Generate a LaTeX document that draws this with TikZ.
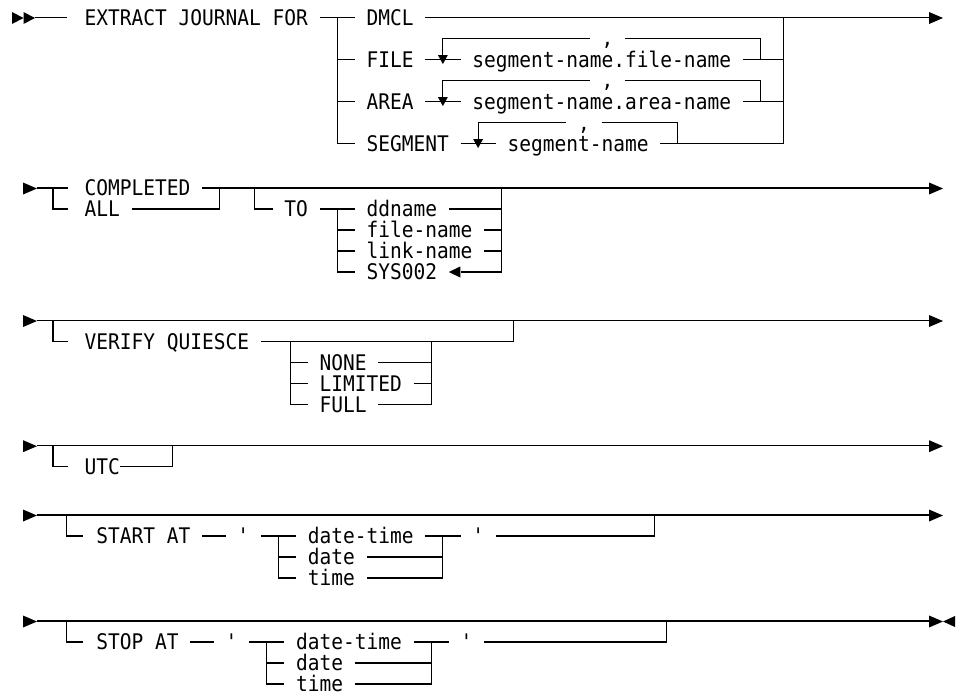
\documentclass[tikz,border=0pt]{standalone}
\usepackage{fontspec}
\setmonofont[FakeStretch=0.908]{DejaVu Sans Mono}
\pgfmathdeclarefunction{cs}{1}{\pgfmathparse{14+11.75*#1}}
\pgfmathdeclarefunction{cm}{1}{\pgfmathparse{14+11.75*(#1+0.5)}}
% right-pointing triangle: left x, y, width
\newcommand\rrRight[3]{\fill ({#1},{#2-6}) -- ({#1+#3},{#2}) -- ({#1},{#2+6}) -- cycle;}
% left-pointing triangle: tip x, y, width
\newcommand\rrLeft[3]{\fill ({#1+#3},{#2-5.5}) -- ({#1},{#2}) -- ({#1+#3},{#2+5.5}) -- cycle;}
% down-pointing triangle: centre x, y
\newcommand\rrDown[2]{\fill ({#1-5},{#2-4.5}) -- ({#1+5},{#2-4.5}) -- ({#1},{#2+4.5}) -- cycle;}
\begin{document}
\begin{tikzpicture}[x=1pt,y=-1pt,
  ln/.style={line width=1.1pt},
  t/.style={anchor=base west, inner sep=0pt, yshift=-7.7pt,
            font=\ttfamily\fontsize{21.5}{24}\selectfont}]
\useasboundingbox (0,0) rectangle (960,696);

%================ Block 1 =================
\rrRight{12}{18}{11.5}
\rrRight{23.5}{18}{11.5}
\coordinate (b1s) at (35,17.5);
\coordinate (b1a) at (67,17.5);
\draw[ln] (b1s) -- (b1a);
\node[t] (extract) at ({cs(6)},17.5) {EXTRACT JOURNAL FOR};
\coordinate (j1) at ({cm(27)},17.5);
\coordinate (j1b) at ({cm(27)},143.5);
\coordinate (j2) at ({cm(65)},17.5);
\coordinate (j2b) at ({cm(65)},143.5);
\draw[ln] ({cs(26)},17.5) -- ({cs(29)},17.5);
\node[t] (dmcl) at ({cs(30)},17.5) {DMCL};
\coordinate (b1e) at ({cs(78)},17.5);
\draw[ln] ({cs(35)},17.5) -- (b1e);
\rrRight{929}{18}{14}
\draw[ln] (j1) -- (j1b) -- ({cs(29)},143.5);
\draw[ln] (j2) -- (j2b) -- ({cs(55)},143.5);

% FILE
\draw[ln] ({cm(27)},59.5) -- ({cs(29)},59.5);
\node[t] (file) at ({cs(30)},59.5) {FILE};
\draw[ln] ({cs(35)},59.5) -- ({cs(38)},59.5);
\rrDown{cm(36)}{59.5}
\node[t] (sfn) at ({cs(39)},59.5) {segment-name.file-name};
\draw[ln] ({cs(62)},59.5) -- ({cm(65)},59.5);
\draw[ln] ({cm(36)},56) -- ({cm(36)},38.5) -- ({cs(49)},38.5);
\node[t] (c1) at ({cs(50)},37.5) {,};
\draw[ln] ({cs(52)},38.5) -- ({cm(63)},38.5) -- ({cm(63)},59.5);

% AREA
\draw[ln] ({cm(27)},101.5) -- ({cs(29)},101.5);
\node[t] (area) at ({cs(30)},101.5) {AREA};
\draw[ln] ({cs(35)},101.5) -- ({cs(38)},101.5);
\rrDown{cm(36)}{101.5}
\node[t] (san) at ({cs(39)},101.5) {segment-name.area-name};
\draw[ln] ({cs(62)},101.5) -- ({cm(65)},101.5);
\draw[ln] ({cm(36)},98) -- ({cm(36)},80.5) -- ({cs(49)},80.5);
\node[t] (c2) at ({cs(50)},79.5) {,};
\draw[ln] ({cs(52)},80.5) -- ({cm(63)},80.5) -- ({cm(63)},101.5);

% SEGMENT
\node[t] (seg) at ({cs(30)},143.5) {SEGMENT};
\draw[ln] ({cs(38)},143.5) -- ({cs(41)},143.5);
\rrDown{cm(39)}{143.5}
\node[t] (sn) at ({cs(42)},143.5) {segment-name};
\draw[ln] ({cm(39)},140) -- ({cm(39)},122.5) -- ({cs(47)},122.5);
\node[t] (c3) at ({cs(48)},122.5) {,};
\draw[ln] ({cs(50)},122.5) -- ({cm(56)},122.5) -- ({cm(56)},143.5);

%================ Block 2 =================
\rrRight{23}{188.5}{14}
\draw[ln] (37,188) -- (68,188);
\node[t] (completed) at ({cs(6)},188) {COMPLETED};
\draw[ln] ({cs(16)},188) -- ({cs(78)},188);
\rrRight{929}{188.5}{14}
\draw[ln] (53,188) -- (53,209) -- (68,209);
\node[t] (all) at ({cs(6)},209) {ALL};
\draw[ln] ({cs(10)},209) -- ({cm(17)},209) -- ({cm(17)},188);
\draw[ln] ({cm(20)},188) -- ({cm(20)},209) -- ({cs(22)},209);
\node[t] (to) at ({cs(23)},209) {TO};
\draw[ln] ({cs(26)},209) -- ({cs(29)},209);
\draw[ln] ({cm(27)},209) -- ({cm(27)},272) -- ({cs(29)},272);
\node[t] (ddname) at ({cs(30)},209) {ddname};
\draw[ln] ({cs(37)},209) -- ({cm(41)},209);
\draw[ln] ({cm(41)},188) -- ({cm(41)},272) -- ({cs(38)},272);
\draw[ln] ({cm(27)},230) -- ({cs(29)},230);
\node[t] (filename) at ({cs(30)},230) {file-name};
\draw[ln] ({cs(40)},230) -- ({cm(41)},230);
\draw[ln] ({cm(27)},251) -- ({cs(29)},251);
\node[t] (linkname) at ({cs(30)},251) {link-name};
\draw[ln] ({cs(40)},251) -- ({cm(41)},251);
\node[t] (sys) at ({cs(30)},272) {SYS002};
\rrLeft{cs(37)}{272}{11.5}

%================ Block 3 =================
\rrRight{23}{321}{14}
\draw[ln] (37,320.5) -- ({cs(78)},320.5);
\rrRight{929}{321}{14}
\draw[ln] (53,320.5) -- (53,341.5) -- (68,341.5);
\node[t] (verify) at ({cs(6)},341.5) {VERIFY QUIESCE};
\draw[ln] ({cs(21)},341.5) -- ({cm(42)},341.5) -- ({cm(42)},320.5);
\draw[ln] ({cm(23)},341.5) -- ({cm(23)},404.5) -- ({cs(25)},404.5);
\draw[ln] ({cm(35)},341.5) -- ({cm(35)},404.5) -- ({cs(31)},404.5);
\draw[ln] ({cm(23)},362.5) -- ({cs(25)},362.5);
\node[t] (none) at ({cs(26)},362.5) {NONE};
\draw[ln] ({cs(31)},362.5) -- ({cm(35)},362.5);
\draw[ln] ({cm(23)},383.5) -- ({cs(25)},383.5);
\node[t] (limited) at ({cs(26)},383.5) {LIMITED};
\draw[ln] ({cs(34)},383.5) -- ({cm(35)},383.5);
\node[t] (full) at ({cs(26)},404.5) {FULL};

%================ Block 4 =================
\rrRight{23}{446.2}{14}
\draw[ln] (37,445.7) -- ({cs(78)},445.7);
\rrRight{929}{446.2}{14}
\draw[ln] (53,445.7) -- (53,466.7) -- (68,466.7);
\node[t] (utc) at ({cs(6)},466.7) {UTC};
\draw[ln] ({cs(9)},466.7) -- ({cm(13)},466.7) -- ({cm(13)},445.7);

%================ Block 5 =================
\rrRight{23}{515.5}{14}
\draw[ln] (37,515) -- ({cs(78)},515);
\rrRight{929}{515.5}{14}
\draw[ln] ({cm(4)},515) -- ({cm(4)},536) -- (83,536);
\node[t] (start) at ({cs(7)},536) {START AT};
\draw[ln] ({cs(16)},536) -- ({cs(18)},536);
\node[t] (q1) at ({cs(19)},536) {'};
\draw[ln] ({cs(21)},536) -- ({cs(24)},536);
\draw[ln] ({cm(22)},536) -- ({cm(22)},578) -- ({cs(24)},578);
\node[t] (dt1) at ({cs(25)},536) {date-time};
\draw[ln] ({cs(35)},536) -- ({cs(38)},536);
\draw[ln] ({cm(36)},536) -- ({cm(36)},578) -- ({cs(30)},578);
\node[t] (q2) at ({cs(39)},536) {'};
\draw[ln] ({cs(41)},536) -- ({cm(54)},536) -- ({cm(54)},515);
\draw[ln] ({cm(22)},557) -- ({cs(24)},557);
\node[t] (d1) at ({cs(25)},557) {date};
\draw[ln] ({cs(30)},557) -- ({cm(36)},557);
\node[t] (t1) at ({cs(25)},578) {time};

%================ Block 6 =================
\rrRight{23}{621.5}{14}
\draw[ln] (37,621) -- ({cs(78)},621);
\rrRight{929}{621.5}{14}
\rrLeft{943}{621.5}{12}
\draw[ln] ({cm(4)},621) -- ({cm(4)},642) -- (83,642);
\node[t] (stop) at ({cs(7)},642) {STOP AT};
\draw[ln] ({cs(15)},642) -- ({cs(17)},642);
\node[t] (q3) at ({cs(18)},642) {'};
\draw[ln] ({cs(20)},642) -- ({cs(23)},642);
\draw[ln] ({cm(21)},642) -- ({cm(21)},684) -- ({cs(23)},684);
\node[t] (dt2) at ({cs(24)},642) {date-time};
\draw[ln] ({cs(34)},642) -- ({cs(37)},642);
\draw[ln] ({cm(35)},642) -- ({cm(35)},684) -- ({cs(29)},684);
\node[t] (q4) at ({cs(38)},642) {'};
\draw[ln] ({cs(40)},642) -- ({cm(55)},642) -- ({cm(55)},621);
\draw[ln] ({cm(21)},663) -- ({cs(23)},663);
\node[t] (d2) at ({cs(24)},663) {date};
\draw[ln] ({cs(29)},663) -- ({cm(35)},663);
\node[t] (t2) at ({cs(24)},684) {time};
\end{tikzpicture}
\end{document}
